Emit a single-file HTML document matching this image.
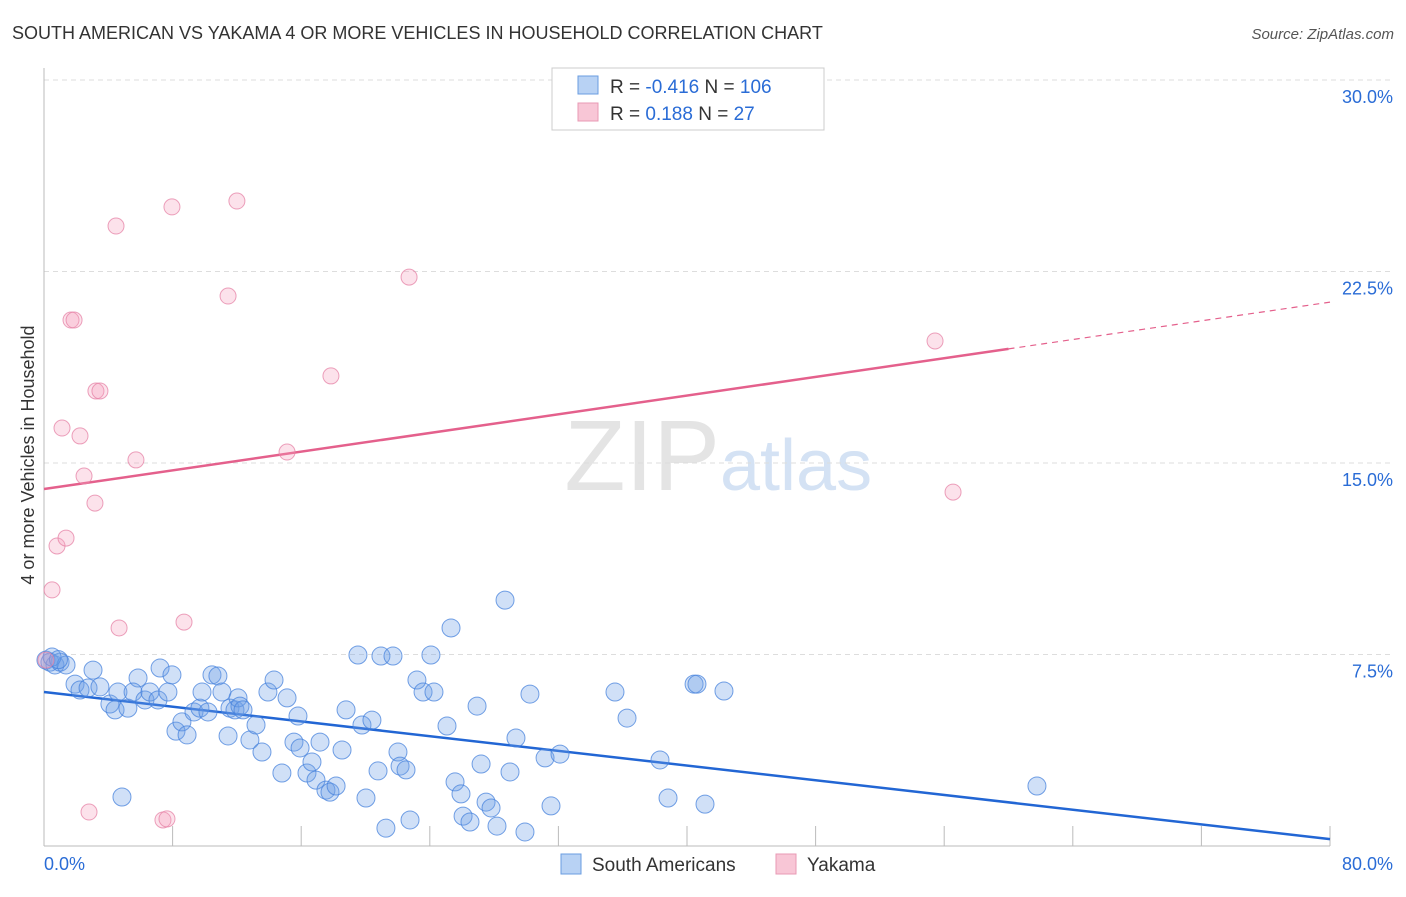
<!DOCTYPE html>
<html><head><meta charset="utf-8"><style>
body{margin:0;background:#fff;font-family:"Liberation Sans",sans-serif}
svg text{font-family:"Liberation Sans",sans-serif}
</style></head><body>
<svg id="chart" width="1406" height="892" xmlns="http://www.w3.org/2000/svg">
<text x="12" y="39" font-size="18" fill="#333">SOUTH AMERICAN VS YAKAMA 4 OR MORE VEHICLES IN HOUSEHOLD CORRELATION CHART</text>
<text x="1394" y="39" font-size="15" fill="#555" font-style="italic" text-anchor="end">Source: ZipAtlas.com</text>
<text x="720" y="490" font-size="100" fill="#e4e4e4" text-anchor="end" font-family="Liberation Serif">ZIP</text>
<text x="720" y="490" font-size="72" fill="#d4e2f4">atlas</text>
<g id="grid"></g><g id="axes"></g><g id="lines"></g><g id="pts"></g>
<text transform="translate(34,455) rotate(-90)" font-size="18" fill="#333" text-anchor="middle">4 or more Vehicles in Household</text>
<g>
<rect x="552" y="68" width="272" height="62" fill="#fff" stroke="#ccc"/>
<rect x="578" y="76" width="20" height="18" fill="#b8d2f4" stroke="#6a9ce0"/>
<rect x="578" y="103" width="20" height="18" fill="#f8c6d6" stroke="#e89ab4"/>
<text x="610" y="93" font-size="19" fill="#333">R = <tspan fill="#2a6cd6">-0.416</tspan>   N = <tspan fill="#2a6cd6">106</tspan></text>
<text x="610" y="120" font-size="19" fill="#333">R =   <tspan fill="#2a6cd6">0.188</tspan>   N =   <tspan fill="#2a6cd6">27</tspan></text>
</g>
<g>
<rect x="561" y="854" width="20" height="20" fill="#b8d2f4" stroke="#6a9ce0"/>
<text x="592" y="871" font-size="19" fill="#333">South Americans</text>
<rect x="776" y="854" width="20" height="20" fill="#f8c6d6" stroke="#e89ab4"/>
<text x="807" y="871" font-size="19" fill="#333">Yakama</text>
</g>
</svg>
<script>
const blueX=[0.12,0.37,0.68,1.0,1.37,3.05,1.93,2.24,2.74,3.48,4.1,4.42,4.6,5.22,5.85,5.54,6.28,6.59,7.09,7.22,7.71,7.96,8.21,8.58,8.9,9.33,9.7,9.83,10.2,10.45,10.82,11.07,11.45,11.57,11.88,12.07,12.19,12.38,12.81,13.19,13.56,13.93,14.31,14.8,15.12,15.55,15.8,15.93,16.36,16.67,16.92,17.17,17.54,17.79,18.17,18.54,18.79,19.53,19.78,20.03,20.4,20.78,20.96,21.27,21.71,22.02,22.15,22.52,22.77,23.2,23.58,24.07,24.26,25.07,25.32,25.57,25.94,26.07,26.5,26.94,27.19,27.5,27.81,28.18,28.68,28.99,29.36,29.92,30.23,31.17,31.54,32.1,35.52,36.27,38.32,38.82,40.44,40.62,41.12,42.3,61.77,4.85,0.5,0.9];
const blueY=[7.28,7.2,7.09,7.2,7.09,6.89,6.34,6.11,6.19,6.23,5.56,5.33,6.03,5.4,6.58,6.03,5.72,6.03,5.72,6.97,6.03,6.7,4.5,4.86,4.35,5.25,5.4,6.03,5.25,6.7,6.66,6.03,4.31,5.4,5.33,5.8,5.48,5.33,4.15,4.74,3.68,6.03,6.5,2.86,5.8,4.07,5.09,3.84,2.86,3.29,2.58,4.07,2.19,2.11,2.35,3.76,5.33,7.48,4.74,1.88,4.93,2.94,7.44,0.7,7.44,3.68,3.13,2.98,1.02,6.5,6.03,7.48,6.03,4.7,8.54,2.51,2.04,1.17,0.94,5.48,3.21,1.72,1.49,0.78,9.63,2.9,4.23,0.55,5.95,3.45,1.57,3.6,6.03,5.01,3.37,1.88,6.34,6.34,1.64,6.07,2.35,1.92,7.4,7.3];
const pinkX=[0.5,0.81,1.37,1.12,2.24,1.68,1.87,2.49,3.17,3.23,3.48,4.48,5.72,4.67,7.96,8.71,11.45,12.0,15.12,17.85,22.71,55.43,56.55,2.8,7.4,7.65,0.12];
const pinkY=[10.03,11.75,12.06,16.37,16.06,20.6,20.6,14.49,13.43,17.82,17.82,24.28,15.12,8.54,25.03,8.77,21.54,25.26,15.43,18.41,22.28,19.78,13.86,1.33,1.02,1.06,7.28];
const blueTrend=[6.03,0.27];   // y at x=0 and x=80
const pinkTrend=[13.98,21.3];  // y at x=0 and x=80
const pinkSolidEnd=60;
const yTicks=[7.5,15,22.5,30];
const yTickLabels=["7.5%","15.0%","22.5%","30.0%"];
const xTicks=[8,16,24,32,40,48,56,64,72,80];
const NS="http://www.w3.org/2000/svg";
const X=v=>44+v/80*1286, Y=v=>846-v/30*766;
function mk(p,tag,a){const e=document.createElementNS(NS,tag);for(const k in a)e.setAttribute(k,a[k]);document.getElementById(p).appendChild(e);return e;}
yTicks.forEach((t,i)=>{
 const g=mk('grid','line',{x1:44,x2:1394,y1:Y(t),y2:Y(t),stroke:'#ddd','stroke-dasharray':'5,4'});
 
 
 const l=mk('axes','text',{x:1393,y:Y(t)+23,'font-size':18,fill:'#2a6cd6','text-anchor':'end'});
 l.textContent=yTickLabels[i];
 
 
});
const ax=mk('axes','line',{x1:44,x2:1330,y1:846,y2:846,stroke:'#bbb'});


const ay=mk('axes','line',{x1:44,x2:44,y1:68,y2:846,stroke:'#bbb'});


xTicks.forEach(t=>{
 const k=mk('axes','line',{x1:X(t),x2:X(t),y1:826,y2:846,stroke:'#bbb'});
 
 
});
const x0=mk('axes','text',{x:44,y:870,'font-size':18,fill:'#2a6cd6'});x0.textContent='0.0%';


const x1=mk('axes','text',{x:1393,y:870,'font-size':18,fill:'#2a6cd6','text-anchor':'end'});x1.textContent='80.0%';


blueX.forEach((v,i)=>{
 const c=mk('pts','circle',{cx:X(v),cy:Y(blueY[i]),r:9,fill:'rgba(110,160,230,0.32)',stroke:'rgba(70,130,220,0.75)','stroke-width':1});
 
 
});
pinkX.forEach((v,i)=>{
 const c=mk('pts','circle',{cx:X(v),cy:Y(pinkY[i]),r:8,fill:'rgba(245,160,190,0.3)',stroke:'rgba(230,130,165,0.75)','stroke-width':1});
 
 
});
const pAt=x=>pinkTrend[0]+(pinkTrend[1]-pinkTrend[0])*x/80;
const bl=mk('lines','line',{x1:X(0),y1:Y(blueTrend[0]),x2:X(80),y2:Y(blueTrend[1]),stroke:'#2266d4','stroke-width':2.5});


const pl=mk('lines','line',{x1:X(0),y1:Y(pAt(0)),x2:X(pinkSolidEnd),y2:Y(pAt(pinkSolidEnd)),stroke:'#e4608c','stroke-width':2.5});


const pd=mk('lines','line',{x1:X(pinkSolidEnd),y1:Y(pAt(pinkSolidEnd)),x2:X(80),y2:Y(pAt(80)),stroke:'#e4608c','stroke-width':1.2,'stroke-dasharray':'6,5'});


</script>
</body></html>
